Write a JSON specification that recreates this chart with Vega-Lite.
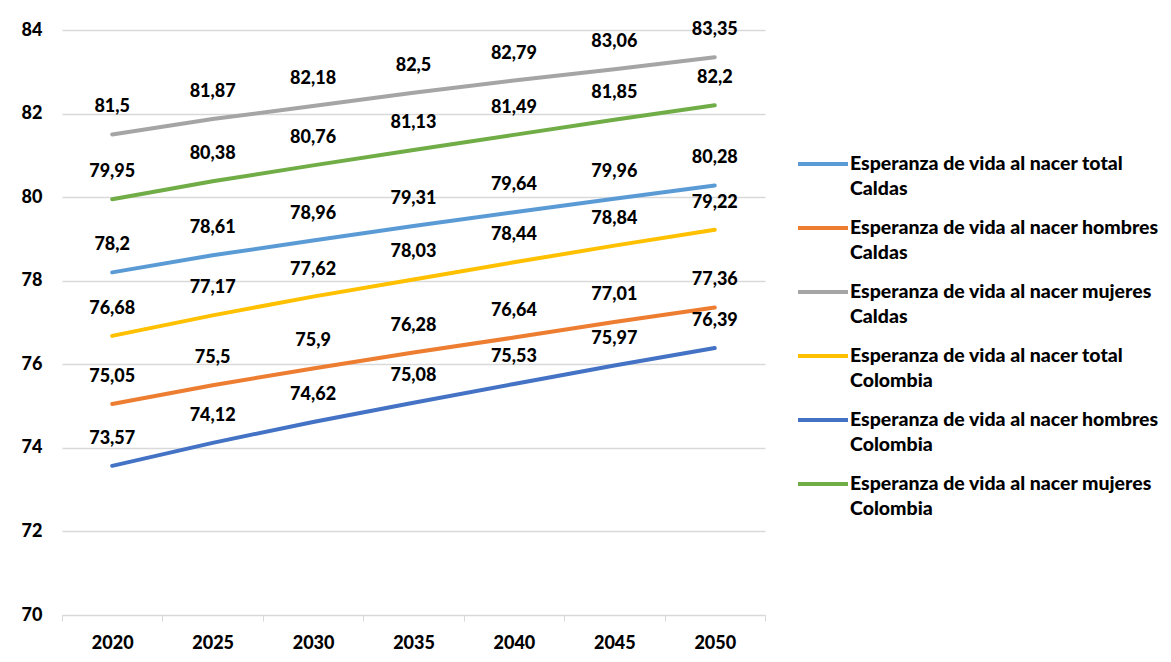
{
  "$schema": "https://vega.github.io/schema/vega-lite/v6.json",
  "width": 703,
  "height": 585,
  "autosize": {"type": "none"},
  "padding": {"left": 62, "top": 30, "right": 406, "bottom": 47},
  "background": "white",
  "config": {
    "view": {"stroke": null},
    "font": "Lato",
    "locale": {"number": {"decimal": ",", "thousands": ".", "grouping": [3], "currency": ["", " €"]}}
  },
  "data": {
    "values": [
      {"year": "2020", "serie": "Esperanza de vida al nacer total Caldas", "value": 78.2},
      {"year": "2025", "serie": "Esperanza de vida al nacer total Caldas", "value": 78.61},
      {"year": "2030", "serie": "Esperanza de vida al nacer total Caldas", "value": 78.96},
      {"year": "2035", "serie": "Esperanza de vida al nacer total Caldas", "value": 79.31},
      {"year": "2040", "serie": "Esperanza de vida al nacer total Caldas", "value": 79.64},
      {"year": "2045", "serie": "Esperanza de vida al nacer total Caldas", "value": 79.96},
      {"year": "2050", "serie": "Esperanza de vida al nacer total Caldas", "value": 80.28},
      {"year": "2020", "serie": "Esperanza de vida al nacer hombres Caldas", "value": 75.05},
      {"year": "2025", "serie": "Esperanza de vida al nacer hombres Caldas", "value": 75.5},
      {"year": "2030", "serie": "Esperanza de vida al nacer hombres Caldas", "value": 75.9},
      {"year": "2035", "serie": "Esperanza de vida al nacer hombres Caldas", "value": 76.28},
      {"year": "2040", "serie": "Esperanza de vida al nacer hombres Caldas", "value": 76.64},
      {"year": "2045", "serie": "Esperanza de vida al nacer hombres Caldas", "value": 77.01},
      {"year": "2050", "serie": "Esperanza de vida al nacer hombres Caldas", "value": 77.36},
      {"year": "2020", "serie": "Esperanza de vida al nacer mujeres Caldas", "value": 81.5},
      {"year": "2025", "serie": "Esperanza de vida al nacer mujeres Caldas", "value": 81.87},
      {"year": "2030", "serie": "Esperanza de vida al nacer mujeres Caldas", "value": 82.18},
      {"year": "2035", "serie": "Esperanza de vida al nacer mujeres Caldas", "value": 82.5},
      {"year": "2040", "serie": "Esperanza de vida al nacer mujeres Caldas", "value": 82.79},
      {"year": "2045", "serie": "Esperanza de vida al nacer mujeres Caldas", "value": 83.06},
      {"year": "2050", "serie": "Esperanza de vida al nacer mujeres Caldas", "value": 83.35},
      {"year": "2020", "serie": "Esperanza de vida al nacer total Colombia", "value": 76.68},
      {"year": "2025", "serie": "Esperanza de vida al nacer total Colombia", "value": 77.17},
      {"year": "2030", "serie": "Esperanza de vida al nacer total Colombia", "value": 77.62},
      {"year": "2035", "serie": "Esperanza de vida al nacer total Colombia", "value": 78.03},
      {"year": "2040", "serie": "Esperanza de vida al nacer total Colombia", "value": 78.44},
      {"year": "2045", "serie": "Esperanza de vida al nacer total Colombia", "value": 78.84},
      {"year": "2050", "serie": "Esperanza de vida al nacer total Colombia", "value": 79.22},
      {"year": "2020", "serie": "Esperanza de vida al nacer hombres Colombia", "value": 73.57},
      {"year": "2025", "serie": "Esperanza de vida al nacer hombres Colombia", "value": 74.12},
      {"year": "2030", "serie": "Esperanza de vida al nacer hombres Colombia", "value": 74.62},
      {"year": "2035", "serie": "Esperanza de vida al nacer hombres Colombia", "value": 75.08},
      {"year": "2040", "serie": "Esperanza de vida al nacer hombres Colombia", "value": 75.53},
      {"year": "2045", "serie": "Esperanza de vida al nacer hombres Colombia", "value": 75.97},
      {"year": "2050", "serie": "Esperanza de vida al nacer hombres Colombia", "value": 76.39},
      {"year": "2020", "serie": "Esperanza de vida al nacer mujeres Colombia", "value": 79.95},
      {"year": "2025", "serie": "Esperanza de vida al nacer mujeres Colombia", "value": 80.38},
      {"year": "2030", "serie": "Esperanza de vida al nacer mujeres Colombia", "value": 80.76},
      {"year": "2035", "serie": "Esperanza de vida al nacer mujeres Colombia", "value": 81.13},
      {"year": "2040", "serie": "Esperanza de vida al nacer mujeres Colombia", "value": 81.49},
      {"year": "2045", "serie": "Esperanza de vida al nacer mujeres Colombia", "value": 81.85},
      {"year": "2050", "serie": "Esperanza de vida al nacer mujeres Colombia", "value": 82.2}
    ]
  },
  "encoding": {
    "x": {
      "field": "year", "type": "ordinal", "bandPosition": 0.5,
      "scale": {"type": "band", "paddingInner": 0, "paddingOuter": 0},
      "axis": {
        "title": null, "labelAngle": 0, "labelFont": "Lato", "labelFontSize": 18, "labelFontWeight": 900,
        "labelColor": "#000000", "domainColor": "#d9d9d9", "domainWidth": 1, "tickColor": "#d9d9d9",
        "tickSize": 6, "tickBand": "extent", "labelPadding": 13, "grid": false
      }
    },
    "y": {
      "field": "value", "type": "quantitative",
      "scale": {"domain": [70, 84], "nice": false, "zero": false},
      "axis": {
        "title": null, "values": [70, 72, 74, 76, 78, 80, 82, 84], "labelFont": "Lato", "labelFontSize": 18,
        "labelFontWeight": 900, "labelColor": "#000000", "domain": false, "ticks": false, "tickSize": 0,
        "labelPadding": 20, "gridColor": "#d9d9d9", "gridWidth": 1.3
      }
    }
  },
  "layer": [
    {
      "mark": {"type": "line", "strokeWidth": 4, "strokeCap": "round"},
      "encoding": {
        "color": {
          "field": "serie", "type": "nominal",
          "scale": {
            "domain": [
              "Esperanza de vida al nacer total Caldas",
              "Esperanza de vida al nacer hombres Caldas",
              "Esperanza de vida al nacer mujeres Caldas",
              "Esperanza de vida al nacer total Colombia",
              "Esperanza de vida al nacer hombres Colombia",
              "Esperanza de vida al nacer mujeres Colombia"
            ],
            "range": ["#5B9BD5", "#ED7D31", "#A5A5A5", "#FFC000", "#4472C4", "#70AD47"]
          },
          "legend": {
            "title": null, "orient": "none", "legendX": 734, "legendY": 107,
            "symbolType": "stroke", "symbolSize": 2500, "symbolStrokeWidth": 4,
            "labelFont": "Lato", "labelFontSize": 19.5, "labelFontWeight": 900, "labelColor": "#000000",
            "labelLimit": 420, "labelOffset": 0, "rowPadding": 2,
            "labelExpr": "[substring(datum.label, 0, indexof(datum.label, ' C')), substring(datum.label, indexof(datum.label, ' C') + 1)]",
            "encode": {"labels": {"update": {"lineHeight": {"value": 25}}}}
          }
        }
      }
    },
    {
      "mark": {"type": "text", "dy": -27, "baseline": "middle", "align": "center", "font": "Lato", "fontSize": 18, "fontWeight": 900, "color": "#000000"},
      "encoding": {
        "text": {"field": "value", "type": "quantitative", "format": "~g"}
      }
    }
  ]
}
